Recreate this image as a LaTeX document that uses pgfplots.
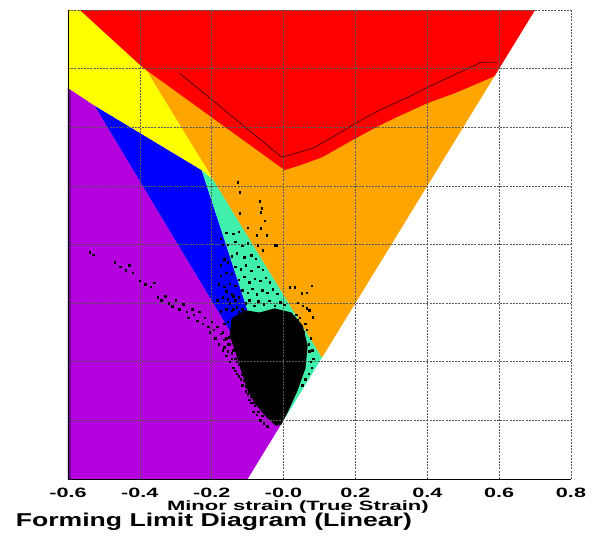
\documentclass[border=0pt]{standalone}
\usepackage{fontspec}
\setmainfont{Liberation Sans}
\usepackage{graphicx}
\usepackage{pgfplots}
\pgfplotsset{compat=1.18}
\definecolor{cred}{RGB}{255,0,0}
\definecolor{cyel}{RGB}{255,255,0}
\definecolor{corg}{RGB}{255,165,0}
\definecolor{cblu}{RGB}{0,0,255}
\definecolor{cpur}{RGB}{180,0,220}
\definecolor{cpurd}{RGB}{110,0,150}
\definecolor{cteal}{RGB}{64,240,170}
\definecolor{cflc}{RGB}{90,0,0}
\newcommand\tl[1]{\scalebox{1.6}[1]{#1}}
\begin{document}
\begin{tikzpicture}
\useasboundingbox (0,0) rectangle (595pt,538pt);
\begin{axis}[
  at={(68pt,59pt)}, anchor=south west,
  scale only axis, width=503pt, height=469pt,
  xmin=-0.6, xmax=0.8, ymin=-0.1, ymax=0.7,
  xtick={-0.6,-0.4,-0.2,0,0.2,0.4,0.6,0.8},
  xticklabels={\tl{-0.6},\tl{-0.4},\tl{-0.2},\tl{-0.0},\tl{0.2},\tl{0.4},\tl{0.6},\tl{0.8}},
  ytick={-0.1,0,0.1,0.2,0.3,0.4,0.5,0.6,0.7},
  yticklabels={},
  major tick length=0pt,
  xticklabel style={font=\fontsize{13.5}{14}\selectfont\bfseries, yshift=-6pt},
  grid=major,
  major grid style={black!65, dash pattern=on 2pt off 1.2pt, line width=0.5pt},
  axis x line*=bottom, axis y line*=left,
  axis line style={black, line width=0.8pt, -},
  axis on top,
  xlabel={\scalebox{1.63}[1]{Minor strain (True Strain)}},
  xlabel style={font=\fontsize{13.5}{14}\selectfont\bfseries, at={(axis description cs:0.457,-0.0597)}, anchor=center},
  title={\scalebox{1.43}[1]{Forming Limit Diagram (Linear)}},
  title style={font=\fontsize{18.6}{20}\selectfont\bfseries, at={(axis description cs:0.29,-0.1045)}, anchor=center},
]
% purple (compression)
\addplot[fill=cpur, draw=none] coordinates {(-0.6,-0.1) (-0.1,-0.1) (0,0) (-0.526,0.537) (-0.6,0.567)} -- cycle;
\addplot[fill=cpurd, draw=none] coordinates {(-0.6,-0.1) (-0.592,-0.1) (-0.592,0.564) (-0.6,0.567)} -- cycle;
% blue
\addplot[fill=cblu, draw=none] coordinates {(-0.526,0.537) (-0.228,0.427) (0,0)} -- cycle;
% teal
\addplot[fill=cteal, draw=none] coordinates {(-0.228,0.427) (-0.195,0.41) (0.107,0.107) (0,0)} -- cycle;
% orange
\addplot[fill=corg, draw=none] coordinates {(-0.392,0.607) (0.003,0.44) (0.3,0.53) (0.6,0.6) (0.107,0.107)} -- cycle;
% yellow
\addplot[fill=cyel, draw=none] coordinates {(-0.6,0.7) (-0.567,0.7) (-0.392,0.607) (-0.195,0.41) (-0.228,0.427) (-0.526,0.537) (-0.6,0.567)} -- cycle;
% red
\addplot[fill=cred, draw=none] coordinates {(-0.567,0.7) (0.7,0.7) (0.587,0.587) (0.53,0.572) (0.476,0.558) (0.4,0.541) (0.314,0.517) (0.267,0.503) (0.2,0.481) (0.108,0.449) (0.045,0.435) (0.003,0.427) (-0.392,0.602)} -- cycle;
% forming limit curve
\addplot[cflc, line width=0.8pt] coordinates {(-0.289,0.592) (-0.005,0.449) (0.081,0.464) (0.156,0.49) (0.2,0.507) (0.267,0.529) (0.359,0.555) (0.4,0.568) (0.551,0.611) (0.595,0.611)};
% dense cluster of measured points
\addplot[fill=black, draw=none] coordinates {(-0.145,0.174) (-0.108,0.188) (-0.067,0.184) (-0.025,0.191) (0.022,0.184) (0.053,0.162) (0.067,0.128) (0.061,0.089) (0.039,0.051) (0.014,0.017) (-0.006,-0.007) (-0.022,-0.009) (-0.05,0.007) (-0.078,0.027) (-0.1,0.051) (-0.117,0.082) (-0.134,0.116) (-0.15,0.145)} -- cycle;
% scattered measured points
\addplot[only marks, mark=square*, mark size=0.75pt, black] coordinates {
(-0.16,0.32) (-0.14,0.318) (-0.125,0.322)
(-0.155,0.30) (-0.135,0.305) (-0.115,0.298) (-0.1,0.302)
(-0.145,0.28) (-0.13,0.285) (-0.11,0.278) (-0.09,0.282) (-0.078,0.276)
(-0.135,0.262) (-0.12,0.258) (-0.105,0.265) (-0.09,0.255) (-0.07,0.262) (-0.058,0.257)
(-0.125,0.24) (-0.11,0.245) (-0.095,0.236) (-0.08,0.242) (-0.065,0.238) (-0.05,0.243) (-0.038,0.236)
(-0.115,0.222) (-0.1,0.218) (-0.088,0.225) (-0.075,0.215) (-0.06,0.222) (-0.045,0.218) (-0.03,0.224) (-0.018,0.216)
(-0.105,0.2) (-0.095,0.205) (-0.082,0.196) (-0.07,0.203) (-0.055,0.198) (-0.04,0.204) (-0.025,0.196) (-0.01,0.202) (0.002,0.197)
(-0.095,0.18) (-0.08,0.184) (-0.068,0.176) (-0.052,0.182) (-0.038,0.178) (-0.022,0.185) (-0.008,0.177) (0.008,0.183) (0.02,0.178)
(0.03,0.165) (0.04,0.172) (0.05,0.16) (0.055,0.15) (0.07,0.13) (0.072,0.118) (0.075,0.1)
(0.035,0.18) (0.045,0.175) (0.06,0.165) (0.065,0.155) (0.075,0.14) (0.08,0.12) (0.082,0.105) (0.078,0.09) (0.07,0.08) (0.06,0.07) (0.052,0.06)
(-0.13,0.17) (-0.14,0.19) (-0.125,0.185) (-0.15,0.2) (-0.135,0.205) (-0.16,0.22) (-0.145,0.215) (-0.12,0.15) (-0.13,0.155) (-0.115,0.14) (-0.125,0.135) (-0.14,0.16) (-0.11,0.12)
(-0.17,0.3) (-0.175,0.31) (-0.155,0.27) (-0.165,0.275) (-0.175,0.265) (-0.145,0.25) (-0.16,0.252) (-0.175,0.247)
(-0.135,0.23) (-0.15,0.233) (-0.165,0.228) (-0.18,0.232) (-0.125,0.21) (-0.14,0.212) (-0.155,0.207) (-0.17,0.21) (-0.185,0.205)
(-0.115,0.19) (-0.13,0.193) (-0.145,0.187) (-0.16,0.19) (-0.175,0.186) (-0.145,0.17) (-0.155,0.168) (-0.165,0.165)
(-0.135,0.15) (-0.145,0.148) (-0.152,0.142)
(-0.17,0.15) (-0.16,0.14) (-0.15,0.13) (-0.165,0.125) (-0.155,0.118) (-0.145,0.105) (-0.14,0.12) (-0.13,0.1) (-0.135,0.085) (-0.125,0.075) (-0.12,0.09)
(-0.115,0.078) (-0.11,0.068) (-0.105,0.058) (-0.1,0.045) (-0.095,0.05) (-0.09,0.04) (-0.085,0.03) (-0.08,0.025) (-0.07,0.015) (-0.06,0.008)
(-0.54,0.287) (-0.53,0.283) (-0.47,0.27) (-0.455,0.262) (-0.44,0.256) (-0.43,0.265) (-0.42,0.252) (-0.40,0.238) (-0.385,0.232) (-0.37,0.228) (-0.36,0.235)
(-0.35,0.21) (-0.34,0.205) (-0.33,0.212) (-0.32,0.2) (-0.31,0.195) (-0.30,0.205) (-0.29,0.19) (-0.28,0.198) (-0.27,0.185) (-0.265,0.175) (-0.255,0.19) (-0.25,0.18)
(-0.24,0.17) (-0.235,0.185) (-0.225,0.165) (-0.22,0.175) (-0.21,0.16) (-0.205,0.15) (-0.2,0.168) (-0.195,0.155) (-0.19,0.14) (-0.185,0.16) (-0.18,0.13) (-0.175,0.148)
(-0.17,0.12) (-0.165,0.138) (-0.16,0.11) (-0.155,0.13) (-0.15,0.1) (-0.145,0.115) (-0.14,0.09) (-0.135,0.105) (-0.13,0.08) (-0.125,0.095) (-0.12,0.07) (-0.115,0.06)
(-0.11,0.085) (-0.105,0.05) (-0.1,0.065) (-0.095,0.035) (-0.09,0.03) (-0.085,0.015) (-0.075,0.01) (-0.065,0.0) (-0.055,-0.005) (-0.045,-0.01)
(-0.128,0.406) (-0.122,0.389) (-0.067,0.374) (-0.061,0.362) (-0.064,0.355) (-0.053,0.341) (-0.1,0.329) (-0.064,0.328) (-0.047,0.316) (-0.122,0.353)
(-0.072,0.299) (-0.025,0.299) (-0.058,0.29) (0.017,0.227) (0.031,0.227) (0.078,0.23) (0.064,0.218) (0.05,0.217) (0.039,0.201) (0.053,0.196)
(0.064,0.191) (0.072,0.188) (0.081,0.176) (-0.075,0.316) (-0.019,0.299)
};
\end{axis}
\end{tikzpicture}
\end{document}
